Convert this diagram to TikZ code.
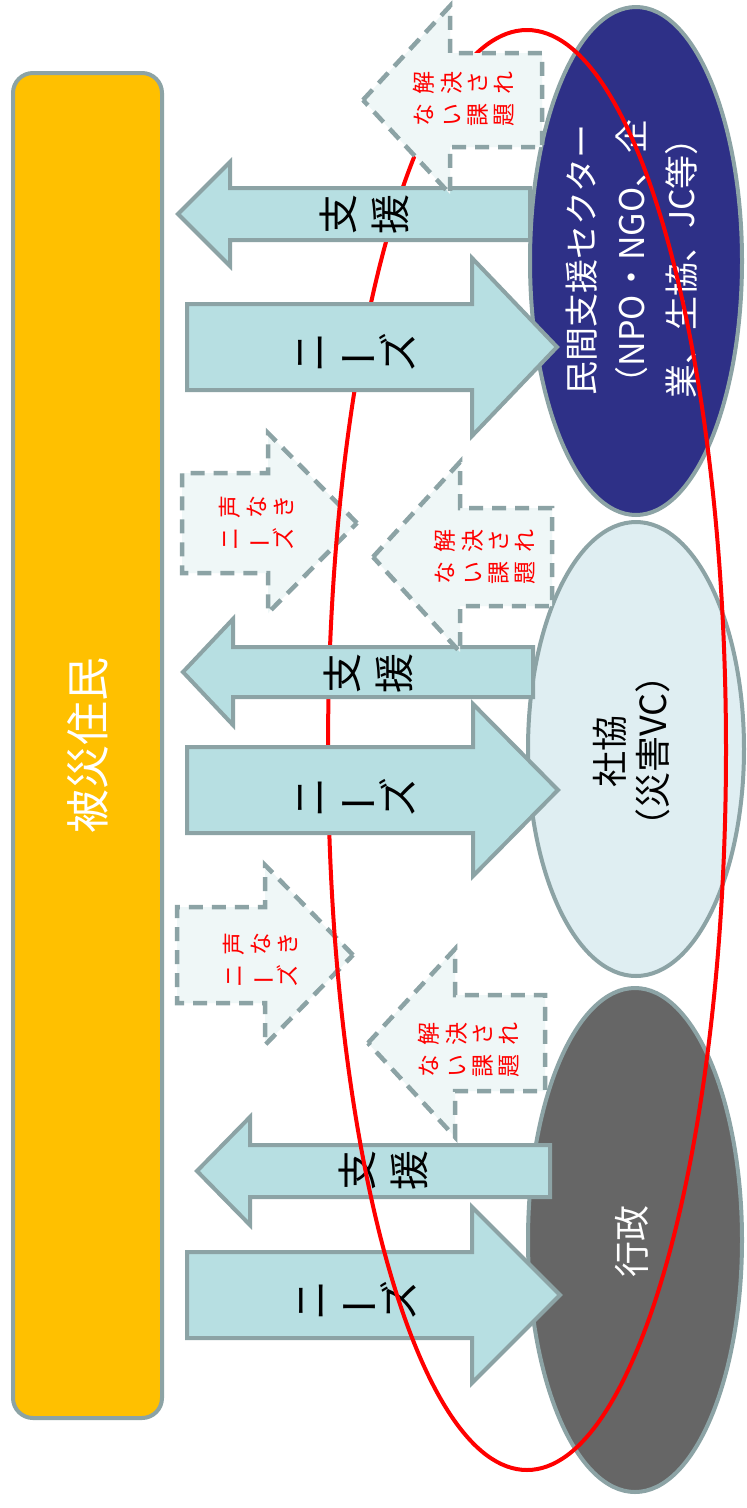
\documentclass[tikz,border=0pt]{standalone}
\usepackage{fontspec}
\setmainfont{Noto Sans CJK JP}
\usetikzlibrary{shapes.geometric}
\definecolor{edgecol}{HTML}{8CA3A5}
\definecolor{arrfill}{HTML}{B7DFE2}
\definecolor{dashfill}{HTML}{EFF7F7}
\definecolor{navyell}{HTML}{2E3087}
\definecolor{lightell}{HTML}{DFEEF2}
\definecolor{grayell}{HTML}{666666}
\definecolor{goldbox}{HTML}{FFC000}
\newcommand\tatebar{\rotatebox[origin=c]{90}{ー}}
% left-pointing block arrow: style, tipx, cy, headbase x, right x, body half, head half
\newcommand\LArrow[7]{\path[#1] ({#2},{#3}) -- ({#4},{#3-#7}) -- ({#4},{#3-#6}) -- ({#5},{#3-#6}) -- ({#5},{#3+#6}) -- ({#4},{#3+#6}) -- ({#4},{#3+#7}) -- cycle;}
% right-pointing block arrow: style, left x, cy, headbase x, tip x, body half, head half
\newcommand\RArrow[7]{\path[#1] ({#5},{#3}) -- ({#4},{#3-#7}) -- ({#4},{#3-#6}) -- ({#2},{#3-#6}) -- ({#2},{#3+#6}) -- ({#4},{#3+#6}) -- ({#4},{#3+#7}) -- cycle;}
\tikzset{
  solidarrow/.style={fill=arrfill, draw=edgecol, line width=4pt, line join=miter},
  dasharrow/.style={fill=dashfill, draw=edgecol, line width=4.5pt, dash pattern=on 14pt off 9pt},
  org/.style={ellipse, draw=edgecol, line width=4pt, inner sep=0pt},
  shien/.style={rotate=90, inner sep=0pt, align=center, font=\fontsize{40}{52}\selectfont},
  needs/.style={rotate=90, inner sep=0pt, align=center, font=\fontsize{40}{43}\selectfont},
  redlabel/.style={rotate=90, inner sep=0pt, text=red, font=\fontsize{23}{26}\selectfont},
}
\begin{document}
\begin{tikzpicture}[x=1pt,y=-1pt]
\useasboundingbox (0,0) rectangle (747,1508);
\fill[white] (0,0) rectangle (747,1508);

% residents box
\node[draw=edgecol, fill=goldbox, rounded corners=20pt, line width=4pt, minimum width=149pt, minimum height=1345pt, inner sep=0pt] (res) at (87.5,745.5) {};
\node[rotate=90, text=white, inner sep=0pt, font=\fontsize{44}{50}\selectfont] (restext) at (res.center) {被災住民};

% organisations
\node[org, fill=navyell, minimum width=212pt, minimum height=508pt] (min) at (636,261) {};
\node[rotate=90, text=white, inner sep=0pt, align=center, font=\fontsize{34}{50}\selectfont] (mintext) at (632,260) {民間支援セクター\\（NPO・NGO、企\\業、生協、JC等）};
\node[org, fill=lightell, minimum width=216pt, minimum height=454pt] (sha) at (636,749) {};
\node[rotate=90, text=black, inner sep=0pt, align=center, font=\fontsize{36}{43}\selectfont] (shatext) at (632,751) {社協\\（災害VC）};
\node[org, fill=grayell, minimum width=214pt, minimum height=504pt] (gyo) at (635,1240) {};
\node[rotate=90, text=white, inner sep=0pt, font=\fontsize{36}{43}\selectfont] (gyotext) at (632,1241) {行政};

% government group (below red ring)
\LArrow{solidarrow}{197}{1171}{250}{550}{26}{54}
\node[shien] (g1) at (383,1170) {支\\援};
\RArrow{solidarrow}{187}{1295}{472}{560}{43}{88}
\node[needs] (g2) at (358,1300) {ニ\\\tatebar\\ズ};

% voiceless needs arrows
\RArrow{dasharrow}{182}{523}{268}{357}{50}{90}
\node[redlabel] (v1) at (260,523) {\begin{tabular}{@{}c@{\hspace{9pt}}c@{}}ニ&声\\\tatebar&な\\ズ&き\end{tabular}};
\RArrow{dasharrow}{177}{955}{265}{353}{48}{90}
\node[redlabel] (v2) at (264,960) {\begin{tabular}{@{}c@{\hspace{9pt}}c@{}}ニ&声\\\tatebar&な\\ズ&き\end{tabular}};

% red ring
\node[ellipse, draw=red, line width=4pt, minimum width=398pt, minimum height=1440pt, inner sep=0pt] (ring) at (527,750) {};

% private sector group
\LArrow{solidarrow}{178}{214}{230}{530}{26}{52}
\node[shien] (m1) at (364,214) {支\\援};
\RArrow{solidarrow}{187}{347}{472}{557}{43}{89}
\node[needs] (m2) at (357,352) {ニ\\\tatebar\\ズ};
\LArrow{dasharrow}{363}{100}{450}{542}{47}{94}
\node[redlabel] (m3) at (467,99) {\begin{tabular}{@{}c@{\hspace{9pt}}c@{}}な&解\\い&決\\課&さ\\題&れ\end{tabular}};

% social welfare council group
\LArrow{solidarrow}{183}{672}{233}{533}{25}{53}
\node[shien] (s1) at (368,673) {支\\援};
\RArrow{solidarrow}{187}{790}{473}{558}{43}{86}
\node[needs] (s2) at (357,797) {ニ\\\tatebar\\ズ};
\LArrow{dasharrow}{373}{557}{460}{552}{49}{95}
\node[redlabel] (s3) at (488,557) {\begin{tabular}{@{}c@{\hspace{9pt}}c@{}}な&解\\い&決\\課&さ\\題&れ\end{tabular}};

% government unresolved issues
\LArrow{dasharrow}{368}{1043}{455}{545}{48}{94}
\node[redlabel] (g3) at (472,1050) {\begin{tabular}{@{}c@{\hspace{9pt}}c@{}}な&解\\い&決\\課&さ\\題&れ\end{tabular}};
\end{tikzpicture}
\end{document}
